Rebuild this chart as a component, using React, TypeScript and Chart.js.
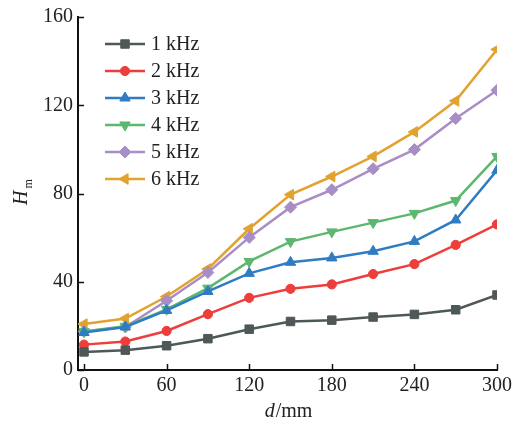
import React, { useEffect, useRef } from "react";
import { Chart, registerables } from "chart.js";
import { drawPoint } from "chart.js/helpers";

Chart.register(...registerables);

const xValues = [0, 30, 60, 90, 120, 150, 180, 210, 240, 270, 300];
const xTicks = [0, 60, 120, 180, 240, 300];
const yTicks = [0, 40, 80, 120, 160];

const labels = ["1 kHz", "2 kHz", "3 kHz", "4 kHz", "5 kHz", "6 kHz"];
const s1 = [8.2, 9.0, 11.0, 14.2, 18.5, 22.0, 22.6, 24.0, 25.2, 27.3, 34.0];
const s2 = [11.5, 12.9, 17.7, 25.3, 32.7, 36.8, 38.8, 43.5, 48.0, 56.7, 66.0];
const s3 = [17.0, 19.5, 27.0, 35.6, 43.8, 48.8, 50.8, 53.8, 58.3, 68.0, 90.5];
const s4 = [17.5, 19.8, 27.5, 37.1, 49.2, 58.2, 62.6, 66.8, 71.0, 76.8, 96.8];
const s5 = [17.5, 19.5, 31.4, 44.2, 60.1, 73.8, 81.7, 91.2, 99.9, 114.0, 126.8];
const s6 = [20.8, 23.3, 33.3, 45.8, 64.0, 79.5, 87.7, 96.8, 107.9, 122.0, 145.3];
const series = [s1, s2, s3, s4, s5, s6];

const colors = ["#4f5858", "#ee3e3b", "#2f7cc3", "#5db76e", "#a88dc6", "#e2a22f"];
const styles = ["rect", "circle", "triangle", "triangle", "rectRot", "triangle"];
const rotations = [0, 0, 0, 180, 0, -90];
const radii = [6, 4.6, 6, 6, 6, 6.2];

const SERIF = "'Liberation Serif', 'DejaVu Serif', serif";
const TEXT = "#222222";
const FS = 20;

const overlay = {
  id: "overlay",
  afterDraw(chart: any) {
    const ctx = chart.ctx as CanvasRenderingContext2D;
    const xs = chart.scales.x;
    const ys = chart.scales.y;
    const area = chart.chartArea;
    ctx.save();
    // inward ticks
    ctx.strokeStyle = "#111";
    ctx.lineWidth = 1.5;
    const tl = 6;
    xTicks.forEach((v) => {
      const px = Math.round(xs.getPixelForValue(v)) + 0.5;
      ctx.beginPath();
      ctx.moveTo(px, area.bottom);
      ctx.lineTo(px, area.bottom - tl);
      ctx.stroke();
    });
    yTicks.forEach((v) => {
      const py = Math.round(ys.getPixelForValue(v)) + 0.5;
      ctx.beginPath();
      ctx.moveTo(area.left, py);
      ctx.lineTo(area.left + tl, py);
      ctx.stroke();
    });

    // legend
    const lx0 = 105;
    const lx1 = 145;
    const ly0 = 44;
    const dy = 27;
    chart.data.datasets.forEach((ds: any, i: number) => {
      const y = ly0 + dy * i;
      ctx.strokeStyle = ds.borderColor;
      ctx.lineWidth = ds.borderWidth;
      ctx.beginPath();
      ctx.moveTo(lx0, y);
      ctx.lineTo(lx1, y);
      ctx.stroke();
      ctx.fillStyle = ds.backgroundColor;
      ctx.strokeStyle = ds.borderColor;
      ctx.lineWidth = 1;
      drawPoint(
        ctx,
        { pointStyle: ds.pointStyle, rotation: ds.pointRotation, radius: ds.pointRadius, borderWidth: 1 } as any,
        (lx0 + lx1) / 2,
        y
      );
      ctx.fillStyle = TEXT;
      ctx.font = `${FS}px ${SERIF}`;
      ctx.textAlign = "left";
      ctx.textBaseline = "middle";
      ctx.fillText(ds.label, 151, y + 1);
    });

    // x title: d/mm
    ctx.fillStyle = TEXT;
    ctx.textBaseline = "alphabetic";
    ctx.textAlign = "left";
    ctx.font = `italic ${FS}px ${SERIF}`;
    const dW = ctx.measureText("d").width;
    ctx.font = `${FS}px ${SERIF}`;
    const restW = ctx.measureText("/mm").width;
    const cx = 288;
    const startX = cx - (dW + restW) / 2;
    ctx.font = `italic ${FS}px ${SERIF}`;
    ctx.fillText("d", startX, 417);
    ctx.font = `${FS}px ${SERIF}`;
    ctx.fillText("/mm", startX + dW + 1, 417);

    // y title: H_m rotated
    ctx.translate(27, 205);
    ctx.rotate(-Math.PI / 2);
    ctx.font = `italic ${FS}px ${SERIF}`;
    ctx.fillText("H", 0, 0);
    const hW = ctx.measureText("H").width;
    ctx.font = `12px ${SERIF}`;
    ctx.fillText("m", hW + 2, 5);
    ctx.restore();
  },
};

export default function App() {
  const ref = useRef<HTMLCanvasElement>(null);
  useEffect(() => {
    if (!ref.current) return;
    const datasets = series.map((s, i) => ({
      label: labels[i],
      data: s.map((v, j) => ({ x: xValues[j], y: v })),
      borderColor: colors[i],
      backgroundColor: colors[i],
      borderWidth: 2.5,
      pointStyle: styles[i],
      pointRotation: rotations[i],
      pointRadius: radii[i],
      pointBorderWidth: 1,
      tension: 0,
    }));
    const chart = new Chart(ref.current, {
      type: "line",
      data: { datasets },
      options: {
        responsive: false,
        animation: false,
        layout: { padding: { left: 0, top: 17, right: 22, bottom: 0 } },
        plugins: { legend: { display: false }, tooltip: { enabled: false } },
        scales: {
          x: {
            type: "linear",
            min: -4.36,
            max: 300,
            afterBuildTicks: (scale: any) => {
              scale.ticks = xTicks.map((v) => ({ value: v }));
            },
            afterFit: (scale: any) => {
              scale.height = 54;
            },
            grid: { display: false, drawTicks: false },
            border: { display: true, color: "#111", width: 2 },
            ticks: {
              color: TEXT,
              font: { family: SERIF, size: FS },
              padding: 4,
              maxRotation: 0,
              autoSkip: false,
            },
          },
          y: {
            type: "linear",
            min: 0,
            max: 160,
            afterBuildTicks: (scale: any) => {
              scale.ticks = yTicks.map((v) => ({ value: v }));
            },
            afterFit: (scale: any) => {
              scale.width = 78;
            },
            grid: { display: false, drawTicks: false },
            border: { display: true, color: "#111", width: 2 },
            ticks: {
              color: TEXT,
              font: { family: SERIF, size: FS },
              padding: 5,
            },
          },
        },
      },
      plugins: [overlay],
    } as any);
    return () => chart.destroy();
  }, []);
  return (
    <div style={{ position: "fixed", left: 0, top: 0, width: 519, height: 424, background: "#fff" }}>
      <canvas ref={ref} width={519} height={424} style={{ width: 519, height: 424, display: "block" }} />
    </div>
  );
}
